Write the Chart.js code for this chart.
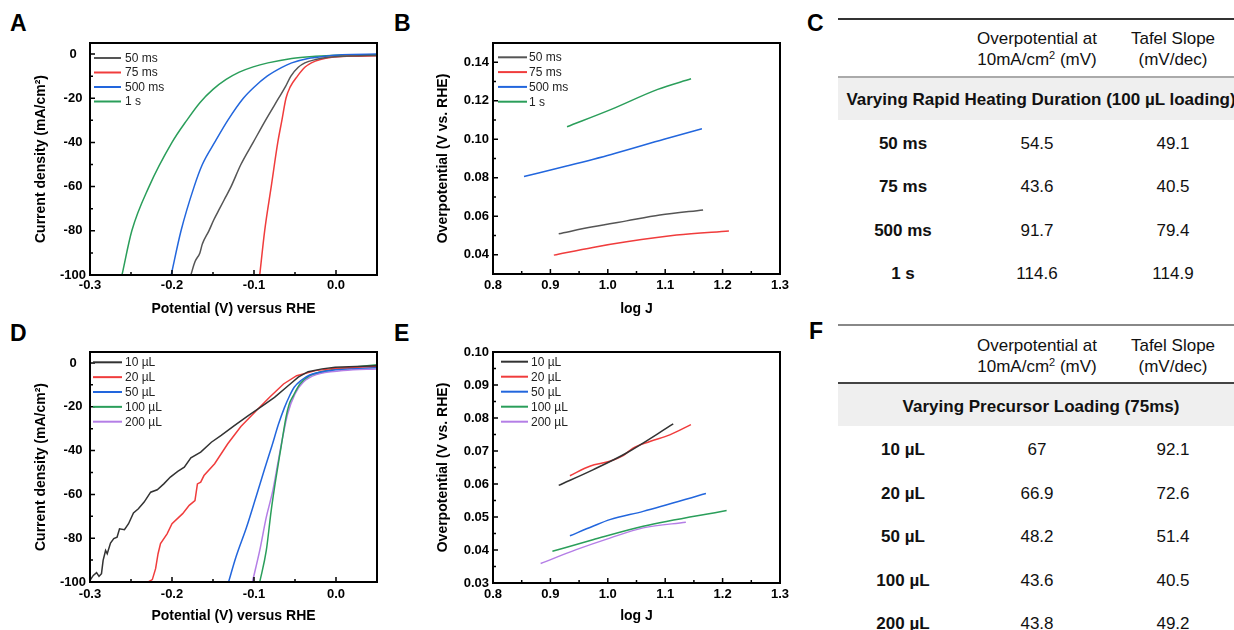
<!DOCTYPE html>
<html>
<head>
<meta charset="utf-8">
<script src="https://cdn.jsdelivr.net/npm/chart.js@4.4.1/dist/chart.umd.min.js"></script>
<style>
  body { margin: 0; width: 1234px; height: 630px; overflow: hidden; background: #fff; position: relative;
         font-family: "Liberation Sans", Arial, sans-serif; color: #111; }
  canvas { position: absolute; }
  .plabel { position: absolute; font-weight: bold; font-size: 23px; line-height: 23px; color: #000; }
  .c { position: absolute; white-space: nowrap; transform: translate(-50%, -50%); font-size: 17px; line-height: 17px; }
  .b { font-weight: bold; }
  .rule { position: absolute; left: 838px; width: 400px; }
  .band { position: absolute; left: 838px; width: 400px; height: 43px; background: #efefef; }
  sup { font-size: 11px; vertical-align: 6px; line-height: 0; }
</style>
</head>
<body>
<div class="plabel" style="left:10px;top:12px">A</div>
<div class="plabel" style="left:394px;top:12px">B</div>
<div class="plabel" style="left:807px;top:12px">C</div>
<div class="plabel" style="left:10px;top:322px">D</div>
<div class="plabel" style="left:394px;top:322px">E</div>
<div class="plabel" style="left:809px;top:320px">F</div>

<canvas id="chartA" width="400" height="320" style="left:0;top:0"></canvas>
<canvas id="chartB" width="400" height="320" style="left:400px;top:0"></canvas>
<canvas id="chartD" width="400" height="320" style="left:0;top:310px"></canvas>
<canvas id="chartE" width="400" height="320" style="left:400px;top:310px"></canvas>

<div id="tables"></div>

<script>
// ---- panel A: LSV curves, heating duration ----
const lsvA_50ms = [[-0.177,-100],[-0.172,-94],[-0.166,-90],[-0.163,-86],[-0.155,-80],[-0.149,-75],[-0.142,-70],[-0.135,-65],[-0.128,-60],[-0.116,-50],[-0.101,-40],[-0.086,-30],[-0.070,-20],[-0.062,-15],[-0.055,-10],[-0.046,-6],[-0.038,-4],[-0.025,-2.5],[-0.009,-1.5],[0.011,-1.0],[0.052,-0.6]];
const lsvA_75ms = [[-0.093,-100],[-0.087,-80],[-0.079,-60],[-0.071,-40],[-0.066,-30],[-0.061,-20],[-0.056,-15],[-0.047,-10],[-0.038,-6],[-0.030,-4],[-0.019,-2.5],[-0.005,-1.5],[0.016,-1.0],[0.052,-0.8]];
const lsvA_500ms = [[-0.201,-100],[-0.189,-80],[-0.173,-60],[-0.163,-50],[-0.148,-40],[-0.132,-30],[-0.113,-20],[-0.100,-15],[-0.084,-10],[-0.066,-6],[-0.054,-4],[-0.034,-2],[-0.013,-1],[0.007,-0.3],[0.052,0]];
const lsvA_1s = [[-0.261,-100],[-0.249,-80],[-0.228,-60],[-0.200,-40],[-0.182,-30],[-0.166,-22],[-0.150,-16],[-0.134,-11.5],[-0.118,-8.2],[-0.101,-5.8],[-0.083,-4],[-0.054,-2],[-0.025,-1],[-0.001,-0.5],[0.052,-0.3]];

// ---- panel B: Tafel, heating duration ----
const tafB_50ms = [[0.9145,0.0509],[0.974,0.0545],[1.0326,0.0576],[1.0907,0.0606],[1.166,0.0633]];
const tafB_75ms = [[0.906,0.0398],[0.974,0.0438],[1.0326,0.0467],[1.1198,0.0502],[1.211,0.0524]];
const tafB_500ms = [[0.854,0.0806],[0.930,0.0862],[1.006,0.0921],[1.098,0.1000],[1.164,0.1055]];
const tafB_1s = [[0.929,0.1065],[1.006,0.1155],[1.087,0.1259],[1.145,0.1314]];

// ---- panel D: LSV curves, precursor loading ----
const lsvD_10 = [[-0.300,-99.2],[-0.296,-97.0],[-0.292,-95.7],[-0.289,-97.4],[-0.286,-96.2],[-0.284,-90.1],[-0.281,-85.6],[-0.279,-87.1],[-0.275,-82.2],[-0.271,-80.2],[-0.267,-79.5],[-0.264,-75.7],[-0.258,-76.1],[-0.253,-73.4],[-0.247,-68.5],[-0.241,-66.6],[-0.234,-63.5],[-0.226,-59.0],[-0.218,-57.9],[-0.210,-55.2],[-0.202,-52.1],[-0.193,-49.5],[-0.185,-47.6],[-0.177,-43.3],[-0.165,-40.7],[-0.152,-36.2],[-0.140,-33.1],[-0.124,-28.6],[-0.107,-24.0],[-0.091,-19.9],[-0.075,-15.7],[-0.058,-10.3],[-0.046,-6.5],[-0.034,-4.0],[-0.017,-2.7],[-0.001,-2.0],[0.052,-1.2]];
const lsvD_20 = [[-0.229,-100],[-0.224,-98.9],[-0.220,-93.9],[-0.217,-87.1],[-0.214,-82.5],[-0.206,-78.0],[-0.200,-73.4],[-0.187,-68.8],[-0.179,-65.0],[-0.172,-62.8],[-0.169,-55.2],[-0.165,-54.4],[-0.161,-51.4],[-0.148,-46.0],[-0.132,-36.9],[-0.116,-29.0],[-0.097,-21.7],[-0.081,-15.7],[-0.064,-9.6],[-0.048,-5.8],[-0.025,-3.5],[-0.001,-2.4],[0.052,-1.5]];
const lsvD_50 = [[-0.131,-100],[-0.122,-88.6],[-0.109,-74.9],[-0.097,-60.5],[-0.087,-48.3],[-0.078,-37.7],[-0.070,-27.8],[-0.063,-20.5],[-0.057,-15.3],[-0.051,-11.1],[-0.042,-7.8],[-0.032,-5.5],[-0.017,-4.0],[0.007,-2.9],[0.051,-2.1]];
const lsvD_100 = [[-0.093,-100],[-0.085,-85.6],[-0.079,-67.3],[-0.073,-52.1],[-0.067,-38.4],[-0.061,-24.8],[-0.057,-18.7],[-0.052,-14.9],[-0.044,-9.6],[-0.032,-5.8],[-0.007,-3.2],[0.020,-2.0],[0.051,-0.8]];
const lsvD_200 = [[-0.102,-100],[-0.093,-85.6],[-0.085,-70.4],[-0.077,-58.2],[-0.071,-46.0],[-0.065,-33.9],[-0.059,-23.3],[-0.050,-14.1],[-0.040,-8.8],[-0.024,-5.3],[0.009,-3.5],[0.051,-2.7]];

// ---- panel E: Tafel, precursor loading ----
const tafE_10 = [[0.9145,0.0596],[0.974,0.0643],[1.0326,0.0694],[1.114,0.0782]];
const tafE_20 = [[0.934,0.0625],[0.9686,0.0654],[1.0035,0.0669],[1.0267,0.0686],[1.044,0.0709],[1.0733,0.0729],[1.108,0.0749],[1.1448,0.0780]];
const tafE_50 = [[0.934,0.0443],[0.974,0.0472],[1.0035,0.0492],[1.0616,0.0517],[1.171,0.0571]];
const tafE_100 = [[0.9035,0.0396],[0.974,0.0431],[1.0616,0.0472],[1.207,0.0520]];
const tafE_200 = [[0.883,0.0359],[0.945,0.0401],[1.0035,0.0436],[1.0616,0.0467],[1.136,0.0484]];

// ---- axis ticks ----
const lsvXTicks = [-0.3, -0.2, -0.1, 0.0];
const lsvXMinor = [-0.25, -0.15, -0.05];
const lsvYTicks = [-100, -80, -60, -40, -20, 0];
const lsvYMinor = [-90, -70, -50, -30, -10];
const tafXTicks = [0.8, 0.9, 1.0, 1.1, 1.2, 1.3];
const tafXMinor = [0.85, 0.95, 1.05, 1.15, 1.25];
const tafBYTicks = [0.04, 0.06, 0.08, 0.10, 0.12, 0.14];
const tafBYMinor = [0.05, 0.07, 0.09, 0.11, 0.13];
const tafEYTicks = [0.03, 0.04, 0.05, 0.06, 0.07, 0.08, 0.09, 0.10];
const tafEYMinor = [0.035, 0.045, 0.055, 0.065, 0.075, 0.085, 0.095];

// ---- tables ----
const tableHeadCols = ["Overpotential at|10mA/cm<sup>2</sup> (mV)", "Tafel Slope|(mV/dec)"];
const durationRows = ["50 ms", "75 ms", "500 ms", "1 s"];
const durationOverpot = ["54.5", "43.6", "91.7", "114.6"];
const durationTafel = ["49.1", "40.5", "79.4", "114.9"];
const loadingRows = ["10 µL", "20 µL", "50 µL", "100 µL", "200 µL"];
const loadingOverpot = ["67", "66.9", "48.2", "43.6", "43.8"];
const loadingTafel = ["92.1", "72.6", "51.4", "40.5", "49.2"];

const fontFam = '"Liberation Sans", Arial, sans-serif';
const colBlackA = "#555555";
const colBlack = "#333333";
const colRed = "#f03c3c";
const colBlue = "#2266dd";
const colGreen = "#2a9e5a";
const colPurple = "#b47ee6";

const frameTicks = {
  id: "frameTicks",
  afterDatasetsDraw(chart, args, opts) {
    const { ctx, chartArea: a, scales } = chart;
    ctx.save();
    ctx.strokeStyle = "#000";
    ctx.lineWidth = 1.5;
    ctx.beginPath();
    opts.xTicks.forEach((v) => { const p = scales.x.getPixelForValue(v); ctx.moveTo(p, a.bottom); ctx.lineTo(p, a.bottom - 5); });
    opts.xMinor.forEach((v) => { const p = scales.x.getPixelForValue(v); ctx.moveTo(p, a.bottom); ctx.lineTo(p, a.bottom - 3); });
    opts.yTicks.forEach((v) => { const p = scales.y.getPixelForValue(v); ctx.moveTo(a.left, p); ctx.lineTo(a.left + 5, p); });
    opts.yMinor.forEach((v) => { const p = scales.y.getPixelForValue(v); ctx.moveTo(a.left, p); ctx.lineTo(a.left + 3, p); });
    ctx.stroke();
    ctx.lineWidth = 2;
    ctx.strokeRect(a.left, a.top, a.right - a.left, a.bottom - a.top);
    ctx.restore();
  },
};

const insideLegend = {
  id: "insideLegend",
  afterDraw(chart, args, opts) {
    const { ctx, chartArea: a } = chart;
    ctx.save();
    ctx.font = "12px " + fontFam;
    ctx.textBaseline = "middle";
    chart.data.datasets.forEach((ds, i) => {
      const y = a.top + opts.top + i * opts.step;
      ctx.strokeStyle = ds.borderColor;
      ctx.lineWidth = 2;
      ctx.beginPath();
      ctx.moveTo(a.left + opts.lineStart, y);
      ctx.lineTo(a.left + opts.lineEnd, y);
      ctx.stroke();
      ctx.fillStyle = "#222";
      ctx.fillText(ds.label, a.left + opts.textStart, y + 0.5);
    });
    ctx.restore();
  },
};

function series(label, data, color, smooth) {
  return {
    label, data, borderColor: color, backgroundColor: color,
    borderWidth: 1.5, pointRadius: 0, fill: false,
    tension: 0, cubicInterpolationMode: smooth ? "monotone" : "default",
  };
}

function buildChart(id, c) {
  const tickFont = { family: fontFam, size: 13, weight: "bold" };
  const titleFont = { family: fontFam, size: 14, weight: "bold" };
  new Chart(document.getElementById(id), {
    type: "line",
    data: { datasets: c.datasets },
    options: {
      responsive: false,
      animation: false,
      layout: { padding: { left: 0, top: c.padTop, right: c.padRight, bottom: 0 } },
      plugins: {
        legend: { display: false },
        tooltip: { enabled: false },
        frameTicks: { xTicks: c.xTicks, xMinor: c.xMinor, yTicks: c.yTicks, yMinor: c.yMinor },
        insideLegend: c.legend,
      },
      scales: {
        x: {
          type: "linear", min: c.xMin, max: c.xMax,
          grid: { display: false, drawTicks: false },
          border: { display: false },
          ticks: { font: tickFont, color: "#000", padding: c.xTickPad, autoSkip: false, maxRotation: 0,
                   callback: (v) => Number(v).toFixed(c.xDigits) },
          title: { display: true, text: c.xTitle, font: titleFont, color: "#000", padding: { top: 0, bottom: c.xTitlePad } },
          afterBuildTicks: (s) => { s.ticks = c.xTicks.map((v) => ({ value: v })); },
          afterFit: (s) => { s.height = c.xAxisHeight; },
        },
        y: {
          type: "linear", min: c.yMin, max: c.yMax,
          grid: { display: false, drawTicks: false },
          border: { display: false },
          ticks: { font: tickFont, color: "#000", padding: 4, autoSkip: false, crossAlign: c.yAlign,
                   callback: (v) => Number(v).toFixed(c.yDigits) },
          title: { display: true, text: c.yTitle, font: titleFont, color: "#000", padding: { top: c.yTitlePad, bottom: 0 } },
          afterBuildTicks: (s) => { s.ticks = c.yTicks.map((v) => ({ value: v })); },
          afterFit: (s) => { s.width = c.yAxisWidth; },
        },
      },
    },
    plugins: [frameTicks, insideLegend],
  });
}

buildChart("chartA", {
  datasets: [
    series("50 ms", lsvA_50ms, colBlackA, true),
    series("75 ms", lsvA_75ms, colRed, true),
    series("500 ms", lsvA_500ms, colBlue, true),
    series("1 s", lsvA_1s, colGreen, true),
  ],
  xMin: -0.3, xMax: 0.05, yMin: -100, yMax: 5,
  xTicks: lsvXTicks, xMinor: lsvXMinor, yTicks: lsvYTicks, yMinor: lsvYMinor,
  xDigits: 1, yDigits: 0, yAlign: "center",
  xTitle: "Potential (V) versus RHE", yTitle: "Current density (mA/cm²)",
  padTop: 43, padRight: 23, yAxisWidth: 90, xAxisHeight: 45,
  xTickPad: 3, xTitlePad: 2, yTitlePad: 33,
  legend: { top: 15, step: 14.5, lineStart: 4, lineEnd: 31, textStart: 35 },
});

buildChart("chartB", {
  datasets: [
    series("50 ms", tafB_50ms, colBlackA, true),
    series("75 ms", tafB_75ms, colRed, true),
    series("500 ms", tafB_500ms, colBlue, true),
    series("1 s", tafB_1s, colGreen, true),
  ],
  xMin: 0.8, xMax: 1.3, yMin: 0.03, yMax: 0.15,
  xTicks: tafXTicks, xMinor: tafXMinor, yTicks: tafBYTicks, yMinor: tafBYMinor,
  xDigits: 1, yDigits: 2, yAlign: "near",
  xTitle: "log J", yTitle: "Overpotential (V vs. RHE)",
  padTop: 43, padRight: 20, yAxisWidth: 93, xAxisHeight: 46,
  xTickPad: 4, xTitlePad: 2, yTitlePad: 35,
  legend: { top: 14.3, step: 14.8, lineStart: 5, lineEnd: 34, textStart: 36 },
});

buildChart("chartD", {
  datasets: [
    series("10 µL", lsvD_10, colBlack, false),
    series("20 µL", lsvD_20, colRed, false),
    series("50 µL", lsvD_50, colBlue, true),
    series("100 µL", lsvD_100, colGreen, true),
    series("200 µL", lsvD_200, colPurple, true),
  ],
  xMin: -0.3, xMax: 0.05, yMin: -100, yMax: 5,
  xTicks: lsvXTicks, xMinor: lsvXMinor, yTicks: lsvYTicks, yMinor: lsvYMinor,
  xDigits: 1, yDigits: 0, yAlign: "center",
  xTitle: "Potential (V) versus RHE", yTitle: "Current density (mA/cm²)",
  padTop: 42, padRight: 23, yAxisWidth: 90, xAxisHeight: 48,
  xTickPad: 5, xTitlePad: 5, yTitlePad: 33,
  legend: { top: 10.3, step: 14.85, lineStart: 3, lineEnd: 32, textStart: 35 },
});

buildChart("chartE", {
  datasets: [
    series("10 µL", tafE_10, colBlack, true),
    series("20 µL", tafE_20, colRed, true),
    series("50 µL", tafE_50, colBlue, true),
    series("100 µL", tafE_100, colGreen, true),
    series("200 µL", tafE_200, colPurple, true),
  ],
  xMin: 0.8, xMax: 1.3, yMin: 0.03, yMax: 0.10,
  xTicks: tafXTicks, xMinor: tafXMinor, yTicks: tafEYTicks, yMinor: tafEYMinor,
  xDigits: 1, yDigits: 2, yAlign: "near",
  xTitle: "log J", yTitle: "Overpotential (V vs. RHE)",
  padTop: 42, padRight: 20, yAxisWidth: 93, xAxisHeight: 47,
  xTickPad: 4, xTitlePad: 5, yTitlePad: 35,
  legend: { top: 9.7, step: 15, lineStart: 8, lineEnd: 35, textStart: 38 },
});

// ---- tables C and F ----
function buildTable(t) {
  const out = [];
  out.push(`<div class="rule" style="top:${t.top}px;height:${t.topRuleW}px;background:${t.topRuleC}"></div>`);
  const heads = tableHeadCols.map((h) => h.split("|"));
  [1037, 1173].forEach((cx, i) => {
    out.push(`<div class="c" style="left:${cx}px;top:${t.head1}px">${heads[i][0]}</div>`);
    out.push(`<div class="c" style="left:${cx}px;top:${t.head2}px">${heads[i][1]}</div>`);
  });
  out.push(`<div class="band" style="top:${t.bandTop}px"></div>`);
  out.push(`<div class="rule" style="top:${t.bandTop - 1}px;height:${t.midRuleW}px;background:${t.midRuleC}"></div>`);
  out.push(`<div class="c b" style="left:1041px;top:${t.bandText}px">${t.title}</div>`);
  t.rows.forEach((r, i) => {
    const y = t.row0 + i * t.rowStep;
    out.push(`<div class="c b" style="left:903px;top:${y}px">${r}</div>`);
    out.push(`<div class="c" style="left:1037px;top:${y}px">${t.over[i]}</div>`);
    out.push(`<div class="c" style="left:1173px;top:${y}px">${t.tafel[i]}</div>`);
  });
  return out.join("");
}

document.getElementById("tables").innerHTML =
  buildTable({ top: 18, topRuleW: 1.5, topRuleC: "#333", head1: 38, head2: 59, bandTop: 77, midRuleW: 2, midRuleC: "#aaa",
               bandText: 99, title: "Varying Rapid Heating Duration (100 µL loading)",
               rows: durationRows, over: durationOverpot, tafel: durationTafel, row0: 143, rowStep: 43.4 }) +
  buildTable({ top: 324, topRuleW: 2, topRuleC: "#888", head1: 345, head2: 366, bandTop: 383, midRuleW: 1.5, midRuleC: "#444",
               bandText: 406, title: "Varying Precursor Loading (75ms)",
               rows: loadingRows, over: loadingOverpot, tafel: loadingTafel, row0: 449, rowStep: 43.5 });
</script>
</body>
</html>
